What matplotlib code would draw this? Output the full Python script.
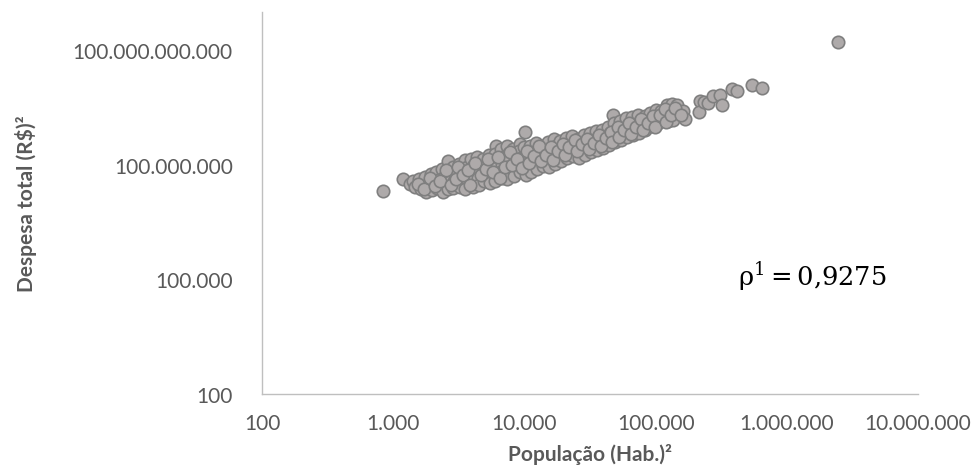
import matplotlib.pyplot as plt
from matplotlib.ticker import FixedLocator, FuncFormatter, NullLocator

# ------------------------------------------------------------------ #
# Data (one line per little column of points)
# ------------------------------------------------------------------ #
pop = [
    836,
    1188,
    1343,
    1420, 1470,
    1580, 1630,
    1750, 1810, 1770,
    1950, 2010, 1980,
    2130, 2190, 2160,
    2360, 2430, 2400, 2380,
    2617, 2580, 2650, 2600,
    2860, 2950, 2900, 2880,
    3180, 3270, 3230, 3210,
    3520, 3650, 3580, 3700, 3540,
    3920, 4050, 3990, 3950, 4030,
    4360, 4500, 4430, 4400, 4470,
    4850, 4990, 4920, 4880,
    5400, 5550, 5470, 5420, 5510,
    6075, 5980, 6150, 6060, 6120, 6000,
    6650, 6830, 6750, 6700, 6800,
    7400, 7580, 7500, 7450, 7560, 7420,
    8220, 8430, 8330, 8280, 8380,
    9260, 9150, 9360, 9240, 9300,
    10100, 9980, 10200, 10150, 10050, 10250,
    11100, 11350, 11230, 11180, 11300,
    12300, 12600, 12470, 12400, 12550,
    13700, 14000, 13860, 13800,
    15200, 15600, 15400, 15300, 15500,
    16900, 17300, 17110, 17000, 17200,
    18800, 19200, 19010, 18900,
    20900, 21350, 21120, 21000,
    23200, 23700, 23470, 23300,
    25800, 26350, 26080, 25900,
    28700, 29300, 28970, 28800,
    31900, 32500, 32190, 32000,
    35400, 36100, 35760, 35600,
    39300, 40100, 39730, 39500,
    43700, 44600, 44150, 43900,
    47360,
    48600, 49500, 49050, 48800,
    54000, 55000, 54500, 54200,
    60000, 61100, 60550, 60300,
    66600, 67900, 67270, 67000,
    74000, 75500, 74740, 74400,
    82300, 83800, 83050,
    91400, 93100, 92240,
    101500, 103500, 102500,
    110900, 112900,
    123100, 125500, 124300,
    134400, 137000, 135700,
    146800, 149600,
    163100, 166300,
    218000, 216000,
    233800,
    250800,
    273800,
    309700,
    320800,
    382300,
    417500,
    543000,
    647000,
    2456000,
]

despesa = [
    2.06e7,
    4.25e7,
    3.14e7,
    3.77e7, 2.62e7,
    4.25e7, 2.32e7,
    4.8e7, 2.96e7, 1.94e7,
    5.7e7, 3.34e7, 2.19e7,
    6.5e7, 4.0e7, 2.47e7,
    7.8e7, 4.8e7, 2.96e7, 1.94e7,
    1.26e8, 5.4e7, 3.55e7, 2.32e7,
    8.8e7, 5.7e7, 3.77e7, 2.47e7,
    1.05e8, 6.9e7, 4.25e7, 2.62e7,
    1.34e8, 8.8e7, 5.4e7, 3.34e7, 2.32e7,
    1.42e8, 9.3e7, 6.1e7, 4.0e7, 2.62e7,
    1.6e8, 1.05e8, 6.9e7, 4.5e7, 2.96e7,
    1.42e8, 8.8e7, 5.7e7, 3.77e7,
    1.81e8, 1.19e8, 7.8e7, 5.1e7, 3.34e7,
    3.1e8, 1.92e8, 1.26e8, 8.3e7, 5.4e7, 3.77e7,
    2.59e8, 1.6e8, 1.05e8, 6.9e7, 4.5e7,
    3.1e8, 2.04e8, 1.34e8, 8.8e7, 5.7e7, 4.25e7,
    2.59e8, 1.7e8, 1.11e8, 7.3e7, 5.1e7,
    3.5e8, 2.3e8, 1.51e8, 9.9e7, 6.5e7,
    7.23e8, 2.93e8, 1.81e8, 1.19e8, 7.8e7, 5.4e7,
    3.1e8, 2.04e8, 1.42e8, 9.3e7, 6.5e7,
    3.72e8, 2.59e8, 1.7e8, 1.11e8, 7.8e7,
    3.1e8, 2.04e8, 1.42e8, 9.3e7,
    3.95e8, 2.59e8, 1.7e8, 1.19e8, 8.8e7,
    4.73e8, 3.1e8, 2.04e8, 1.42e8, 1.05e8,
    4.2e8, 2.75e8, 1.81e8, 1.26e8,
    5.03e8, 3.3e8, 2.3e8, 1.51e8,
    5.68e8, 3.72e8, 2.59e8, 1.7e8,
    4.73e8, 3.1e8, 2.16e8, 1.51e8,
    6.03e8, 3.95e8, 2.59e8, 1.81e8,
    6.81e8, 4.73e8, 3.1e8, 2.16e8,
    7.67e8, 5.35e8, 3.5e8, 2.44e8,
    8.15e8, 5.35e8, 3.72e8, 2.75e8,
    9.77e8, 6.81e8, 4.73e8, 3.3e8,
    2.01e9,
    1.24e9, 8.15e8, 5.35e8, 3.95e8,
    1.40e9, 9.77e8, 6.4e8, 4.46e8,
    1.68e9, 1.10e9, 7.67e8, 5.35e8,
    1.78e9, 1.17e9, 8.15e8, 6.03e8,
    2.01e9, 1.40e9, 9.2e8, 6.81e8,
    1.9e9, 1.24e9, 8.15e8,
    2.27e9, 1.58e9, 1.04e9,
    2.72e9, 1.78e9, 1.17e9,
    2.56e9, 1.58e9,
    3.68e9, 2.27e9, 1.40e9,
    3.9e9, 2.56e9, 1.49e9,
    3.68e9, 2.41e9,
    2.56e9, 1.58e9,
    4.68e9, 2.41e9,
    4.4e9,
    4.15e9,
    6.3e9,
    6.7e9,
    3.68e9,
    9.6e9,
    8.55e9,
    1.23e10,
    1.02e10,
    1.64e11,
]

# points sitting in the gaps of the dense band
pop_b = [
    1545, 1717, 1908, 2083, 2274, 2526, 2758, 3011, 3118, 3404,
    3717, 3849, 4202, 4669, 5097, 5280, 5764, 6292, 6517, 7115,
    7769, 8046, 8783, 9588, 10470, 10840, 11830, 12920, 13380, 14600,
    15950, 16520, 18030, 19690, 20390, 21880, 24300, 25170, 27480, 30010,
    31080, 33930, 37040, 38370, 41880, 45730, 46530, 51700, 52620, 57440,
    62710, 64940, 70900, 77400, 80170, 87520, 95550, 98940, 108000, 117900,
    120000, 131000, 140600, 156200,
]
desp_b = [
    3.14e7, 2.32e7, 4.5e7, 2.79e7, 3.77e7, 7.3e7, 2.96e7, 4.25e7, 8.8e7, 5.4e7,
    7.3e7, 2.96e7, 1.11e8, 5.4e7, 7.8e7, 1.42e8, 6.5e7, 1.6e8, 4.5e7, 8.8e7,
    2.16e8, 9.9e7, 1.42e8, 8.3e7, 2.3e8, 1.11e8, 1.7e8, 3.1e8, 1.26e8, 1.81e8,
    2.93e8, 1.34e8, 2.3e8, 3.5e8, 1.81e8, 2.93e8, 4.46e8, 2.3e8, 3.5e8, 4.73e8,
    2.59e8, 3.72e8, 6.03e8, 3.1e8, 5.03e8, 7.23e8, 3.95e8, 9.77e8, 5.35e8, 8.15e8,
    1.24e9, 6.4e8, 9.77e8, 1.58e9, 8.15e8, 1.24e9, 1.9e9, 9.77e8, 2.01e9, 2.89e9,
    1.32e9, 2.01e9, 3.07e9, 2.01e9,
]

x_ticks = [1e2, 1e3, 1e4, 1e5, 1e6, 1e7]
y_ticks = [1e2, 1e5, 1e8, 1e11]
rho_text = r'$\mathrm{\rho}^{1} = 0{,}9275$'

assert len(pop) == len(despesa)
assert len(pop_b) == len(desp_b)

# ------------------------------------------------------------------ #
# Plot
# ------------------------------------------------------------------ #
plt.rcParams['font.family'] = ['Lato', 'DejaVu Sans']
plt.rcParams['mathtext.fontset'] = 'dejavuserif'

grey_txt = '#595959'

fig = plt.figure(figsize=(9.76, 4.77), dpi=100)
ax = fig.add_axes([262 / 976, 1 - 395 / 477, 656 / 976, 382 / 477])

ax.scatter(pop + pop_b, despesa + desp_b, s=80, c='#aeaaaa',
           edgecolors='#7f7f7f', linewidths=1.2, zorder=3)

ax.set_xscale('log')
ax.set_yscale('log')
ax.set_xlim(1e2, 1e7)
ax.set_ylim(1e2, 1e12)

fmt = FuncFormatter(lambda v, p: format(int(round(v)), ',').replace(',', '.'))
ax.xaxis.set_major_locator(FixedLocator(x_ticks))
ax.yaxis.set_major_locator(FixedLocator(y_ticks))
ax.xaxis.set_minor_locator(NullLocator())
ax.yaxis.set_minor_locator(NullLocator())
ax.xaxis.set_major_formatter(fmt)
ax.yaxis.set_major_formatter(fmt)

ax.tick_params(axis='both', length=0, labelsize=15, labelcolor=grey_txt)
ax.tick_params(axis='x', pad=14)
ax.tick_params(axis='y', pad=21)

for side in ['top', 'right']:
    ax.spines[side].set_visible(False)
for side in ['left', 'bottom']:
    ax.spines[side].set_color('#bfbfbf')
    ax.spines[side].set_linewidth(1.0)

ax.set_xlabel('População (Hab.)²', fontsize=15, fontweight='bold',
              color=grey_txt, labelpad=7)
ax.set_ylabel('Despesa total (R$)²', fontsize=15, fontweight='bold',
              color=grey_txt, labelpad=26)

ax.text((738 - 262) / 656, (395 - 286) / 382, rho_text, transform=ax.transAxes,
        fontsize=18.5, color='black', ha='left', va='baseline')

plt.savefig('out.png', dpi=100)
